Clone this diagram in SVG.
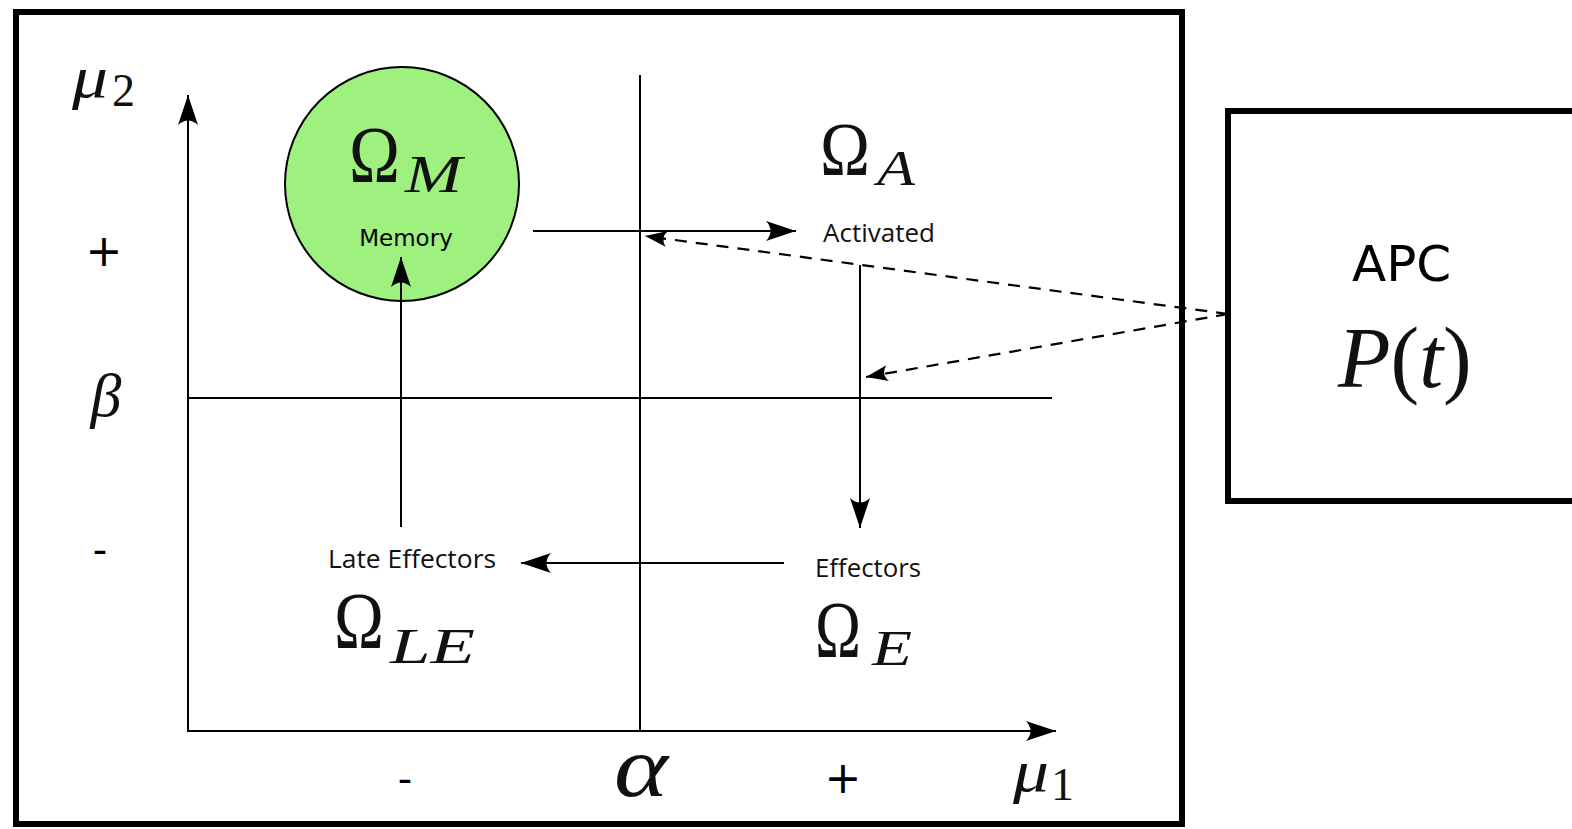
<svg xmlns="http://www.w3.org/2000/svg" width="1572" height="829" viewBox="0 0 1572 829">
<style>
.frame{fill:none;stroke:#000;stroke-width:6}
.ax{fill:none;stroke:#000;stroke-width:2}
.arr{fill:none;stroke:#000;stroke-width:2;marker-end:url(#ah)}
.dash{fill:none;stroke:#000;stroke-width:2.2;stroke-dasharray:12 9;marker-end:url(#ahs)}
.math{font-family:"Liberation Serif","DejaVu Serif",serif;fill:#111}
.it{font-style:italic}
.lbl{font-family:"Open Sans","DejaVu Sans",sans-serif;fill:#111}
.sans{font-family:"DejaVu Sans","Liberation Sans",sans-serif;fill:#000}
</style>
<defs>
<marker id="ah" markerUnits="userSpaceOnUse" markerWidth="30" markerHeight="20" viewBox="0 0 30 20" refX="30" refY="10" orient="auto">
<path d="M30,10 L0,0 Q9,10 0,20 Z" fill="#000"/>
</marker>
<marker id="ahs" markerUnits="userSpaceOnUse" markerWidth="22" markerHeight="16" viewBox="0 0 22 16" refX="22" refY="8" orient="auto">
<path d="M22,8 L0,0 Q7,8 0,16 Z" fill="#000"/>
</marker>
</defs>
<rect width="1572" height="829" fill="#fff"/>
<g id="frame">
<rect class="frame" x="16" y="12" width="1166" height="812"/>
</g>
<g id="axes">
<line class="ax" x1="188" y1="731" x2="188" y2="95" marker-end="url(#ah)"/>
<line class="ax" x1="187" y1="731" x2="1056" y2="731" marker-end="url(#ah)"/>
<line class="ax" x1="640" y1="75" x2="640" y2="731"/>
<line class="ax" x1="188" y1="398" x2="1052" y2="398"/>
<text class="math it" x="72" y="97" font-size="60" textLength="36" lengthAdjust="spacingAndGlyphs">μ</text>
<text class="math" x="112" y="106" font-size="46">2</text>
<text class="sans" x="104" y="266" font-size="44" text-anchor="middle">+</text>
<text class="math it" x="106" y="416" font-size="62" text-anchor="middle">β</text>
<text class="sans" x="100" y="564" font-size="40" text-anchor="middle">-</text>
<text class="sans" x="405" y="793" font-size="40" text-anchor="middle">-</text>
<text class="math it" x="614" y="796" font-size="86" textLength="54" lengthAdjust="spacingAndGlyphs">α</text>
<text class="sans" x="843" y="793" font-size="44" text-anchor="middle">+</text>
<text class="math it" x="1013" y="791" font-size="60" textLength="36" lengthAdjust="spacingAndGlyphs">μ</text>
<text class="math" x="1051" y="800" font-size="46">1</text>
</g>
<g id="apc">
<rect class="frame" x="1228" y="111" width="400" height="390"/>
<text class="sans" x="1352" y="281" font-size="50">APC</text>
<text class="math" x="1338" y="387" font-size="86"><tspan class="it">P</tspan>(<tspan class="it">t</tspan>)</text>
</g>
<g id="memory">
<circle cx="402" cy="184" r="117" fill="#9ef07f" stroke="#000" stroke-width="2"/>
<text class="math" x="349" y="182" font-size="80" textLength="51" lengthAdjust="spacingAndGlyphs">Ω</text>
<text class="math it" x="405" y="192" font-size="52" textLength="57" lengthAdjust="spacingAndGlyphs">M</text>
<text class="sans" x="406" y="246" font-size="23" text-anchor="middle">Memory</text>
</g>
<g id="activated">
<text class="math" x="820" y="175" font-size="76" textLength="50" lengthAdjust="spacingAndGlyphs">Ω</text>
<text class="math it" x="877" y="185" font-size="50" textLength="38" lengthAdjust="spacingAndGlyphs">A</text>
<text class="lbl" x="823" y="242" font-size="25" textLength="112" lengthAdjust="spacingAndGlyphs">Activated</text>
</g>
<g id="effectors">
<text class="lbl" x="815" y="577" font-size="25" textLength="106" lengthAdjust="spacingAndGlyphs">Effectors</text>
<text class="math" x="815" y="657" font-size="80" textLength="46" lengthAdjust="spacingAndGlyphs">Ω</text>
<text class="math it" x="872" y="665" font-size="50" textLength="40" lengthAdjust="spacingAndGlyphs">E</text>
</g>
<g id="late-effectors">
<text class="lbl" x="328" y="568" font-size="25" textLength="168" lengthAdjust="spacingAndGlyphs">Late Effectors</text>
<text class="math" x="334" y="648" font-size="80" textLength="50" lengthAdjust="spacingAndGlyphs">Ω</text>
<text class="math it" x="390" y="663" font-size="50" textLength="85" lengthAdjust="spacingAndGlyphs">LE</text>
</g>
<g id="connectors">
<line class="arr" x1="533" y1="231" x2="796" y2="231"/>
<line class="arr" x1="860" y1="265" x2="860" y2="528"/>
<line class="arr" x1="784" y1="563" x2="521" y2="563"/>
<line class="arr" x1="401" y1="527" x2="401" y2="257"/>
<line class="dash" x1="1228" y1="314" x2="645" y2="236"/>
<line class="dash" x1="1228" y1="314" x2="866" y2="377"/>
</g>
</svg>
